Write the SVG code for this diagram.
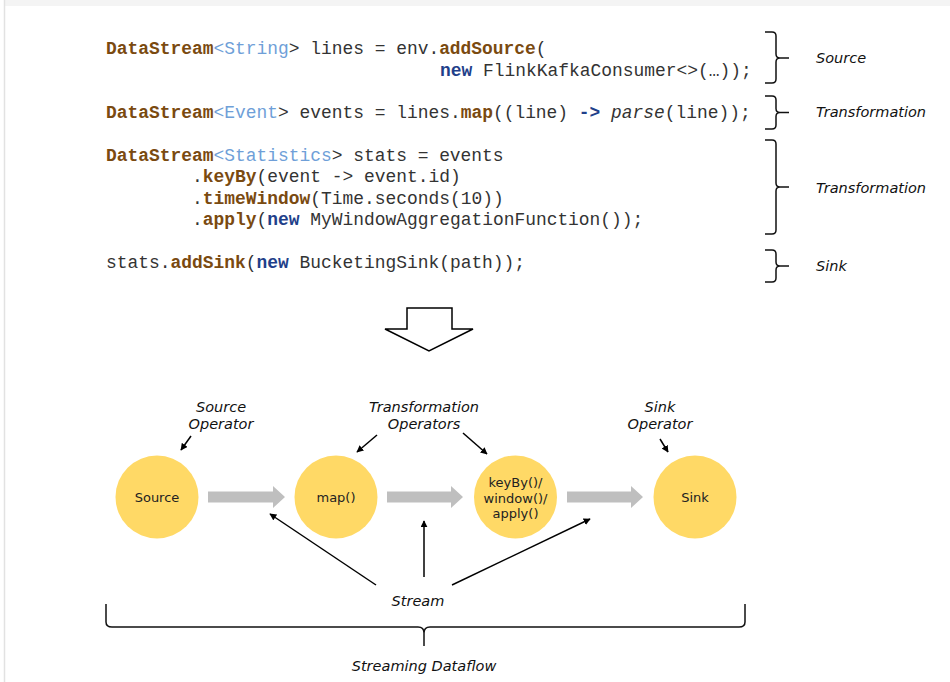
<svg xmlns="http://www.w3.org/2000/svg" width="950" height="682" viewBox="0 0 950 682">
<defs>
<style>
.code{font-family:"Liberation Mono","Courier New",monospace;font-size:17.92px;fill:#333}
.k{font-weight:bold;fill:#7a4a10}
.t{fill:#6f9fd8}
.n{font-weight:bold;fill:#1f3f8a}
.lbl{font-family:"DejaVu Sans",Verdana,sans-serif;font-style:italic;font-size:14.5px;fill:#111}
.ctext{font-family:"DejaVu Sans",Verdana,sans-serif;font-size:13px;fill:#222;text-anchor:middle}
.brace{fill:none;stroke:#111;stroke-width:1.5}
.op{fill:#ffd966}
.block{fill:#bfbfbf}
.ptr{stroke:#000;stroke-width:1.5;fill:none;marker-end:url(#ah)}
</style>
<marker id="ah" viewBox="0 0 10 10" refX="9" refY="5" markerWidth="7" markerHeight="7" markerUnits="userSpaceOnUse" orient="auto">
<path d="M0,0 L10,5 L0,10 z" fill="#000"/>
</marker>
</defs>
<rect x="0" y="0" width="950" height="682" fill="#fff"/>
<rect x="5" y="0" width="945" height="6" fill="#f4f4f4"/>
<line x1="4.5" y1="0" x2="4.5" y2="682" stroke="#e2e2e2" stroke-width="1.5"/>

<g id="code">
<text class="code" x="106" y="54" xml:space="preserve"><tspan class="k">DataStream</tspan><tspan class="t">&lt;String</tspan>&gt; lines = env.<tspan class="k">addSource</tspan>(</text>
<text class="code" x="440" y="76" xml:space="preserve"><tspan class="n">new</tspan> FlinkKafkaConsumer&lt;&gt;(…));</text>
<text class="code" x="106" y="118" xml:space="preserve"><tspan class="k">DataStream</tspan><tspan class="t">&lt;Event</tspan>&gt; events = lines.<tspan class="k">map</tspan>((line) <tspan class="n">-&gt;</tspan> <tspan font-style="italic">parse</tspan>(line));</text>
<text class="code" x="106" y="161" xml:space="preserve"><tspan class="k">DataStream</tspan><tspan class="t">&lt;Statistics</tspan>&gt; stats = events</text>
<text class="code" x="192" y="182" xml:space="preserve">.<tspan class="k">keyBy</tspan>(event -&gt; event.id)</text>
<text class="code" x="192" y="204" xml:space="preserve">.<tspan class="k">timeWindow</tspan>(Time.seconds(10))</text>
<text class="code" x="192" y="225" xml:space="preserve">.<tspan class="k">apply</tspan>(<tspan class="n">new</tspan> MyWindowAggregationFunction());</text>
<text class="code" x="106" y="268" xml:space="preserve">stats.<tspan class="k">addSink</tspan>(<tspan class="n">new</tspan> BucketingSink(path));</text>
</g>

<g id="code-braces">
<path class="brace" d="M765,32 H772 Q776,32 776,36 V54 Q776,58 780,58 H789 M780,58 Q776,58 776,62 V79 Q776,83 772,83 H765"/>
<path class="brace" d="M765,96 H772 Q776,96 776,100 V108.5 Q776,112.5 780,112.5 H789 M780,112.5 Q776,112.5 776,116.5 V125 Q776,129 772,129 H765"/>
<path class="brace" d="M765,140 H772 Q776,140 776,144 V183 Q776,187 780,187 H789 M780,187 Q776,187 776,191 V230 Q776,234 772,234 H765"/>
<path class="brace" d="M765,250 H772 Q776,250 776,254 V262 Q776,266 780,266 H789 M780,266 Q776,266 776,270 V278 Q776,282 772,282 H765"/>
<text class="lbl" x="816" y="63">Source</text>
<text class="lbl" x="816" y="117">Transformation</text>
<text class="lbl" x="816" y="193">Transformation</text>
<text class="lbl" x="816" y="271">Sink</text>
</g>

<g id="big-arrow">
<polygon points="407,308 452,308 452,329 473,329 429,351 385,329 407,329" fill="#fff" stroke="#000" stroke-width="1.5"/>
</g>

<g id="node-source">
<circle class="op" cx="157" cy="497" r="41.5"/>
<text class="ctext" x="157" y="502">Source</text>
</g>
<g id="node-map">
<circle class="op" cx="336" cy="497" r="41.5"/>
<text class="ctext" x="336" y="502">map()</text>
</g>
<g id="node-keyby">
<circle class="op" cx="515.5" cy="497" r="41.5"/>
<text class="ctext" x="515.5" y="487">keyBy()/</text>
<text class="ctext" x="515.5" y="502.5">window()/</text>
<text class="ctext" x="515.5" y="518">apply()</text>
</g>
<g id="node-sink">
<circle class="op" cx="695" cy="497" r="41.5"/>
<text class="ctext" x="695" y="502">Sink</text>
</g>

<g id="connectors">
<polygon class="block" points="208,491.5 273,491.5 273,486 285,497 273,508 273,502.5 208,502.5"/>
<polygon class="block" points="387,491.5 451,491.5 451,486 463,497 451,508 451,502.5 387,502.5"/>
<polygon class="block" points="567,491.5 631,491.5 631,486 643,497 631,508 631,502.5 567,502.5"/>
<line class="ptr" x1="191" y1="436" x2="181" y2="450"/>
<line class="ptr" x1="377" y1="435" x2="357" y2="452"/>
<line class="ptr" x1="463" y1="433" x2="487" y2="454"/>
<line class="ptr" x1="660" y1="439" x2="668" y2="452"/>
<line class="ptr" x1="376" y1="585" x2="270" y2="514"/>
<line class="ptr" x1="424" y1="577" x2="424" y2="521"/>
<line class="ptr" x1="452" y1="585" x2="590" y2="519"/>
</g>

<g id="labels">
<text class="lbl" x="221" y="412" text-anchor="middle">Source</text>
<text class="lbl" x="221" y="429" text-anchor="middle">Operator</text>
<text class="lbl" x="424" y="412" text-anchor="middle">Transformation</text>
<text class="lbl" x="424" y="429" text-anchor="middle">Operators</text>
<text class="lbl" x="660" y="412" text-anchor="middle">Sink</text>
<text class="lbl" x="660" y="429" text-anchor="middle">Operator</text>
<text class="lbl" x="418" y="606" text-anchor="middle">Stream</text>
</g>

<g id="dataflow-brace">
<path class="brace" d="M106,604 V622 Q106,627 112,627 H418 Q424,627 424,633 V646 M424,633 Q424,627 430,627 H739 Q745,627 745,622 V604"/>
<text class="lbl" x="424" y="671" text-anchor="middle">Streaming Dataflow</text>
</g>
</svg>
